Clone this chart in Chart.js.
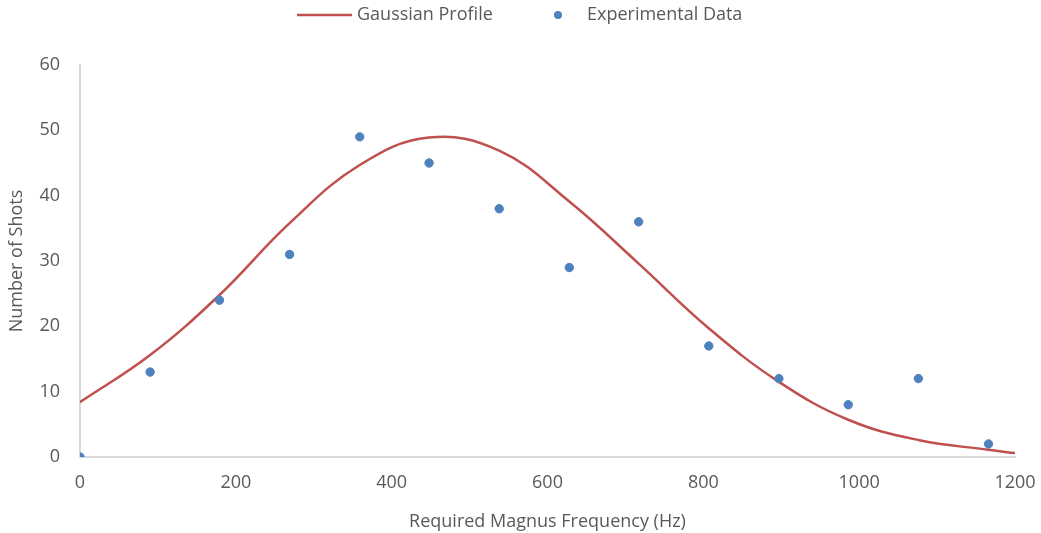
<!DOCTYPE html>
<html>
<head>
<meta charset="utf-8">
<script src="https://cdn.jsdelivr.net/npm/chart.js@4.4.1/dist/chart.umd.min.js"></script>
<style>
  html, body { margin: 0; padding: 0; background: #fff; }
</style>
</head>
<body>
<canvas id="chart" width="1041" height="533"></canvas>
<script>
// experimental points
const freqHz = [0, 90, 179, 269, 359, 448, 538, 628, 717, 807, 897, 986, 1076, 1166];
const shots = [0, 13, 24, 31, 49, 45, 38, 29, 36, 17, 12, 8, 12, 2];

// fitted gaussian curve
const fitHz = [0, 90, 179, 269, 359, 448, 538, 628, 717, 807, 897, 986, 1076, 1166, 1200];
const fitShots = [8.4, 15.6, 24.8, 35.8, 44.7, 48.9, 46.9, 39.1, 29.6, 19.7, 11.5, 5.7, 2.6, 1.1, 0.6];

const xTicks = [0, 200, 400, 600, 800, 1000, 1200];
const yTicks = [0, 10, 20, 30, 40, 50, 60];

const seriesNames = ["Gaussian Profile", "Experimental Data"];
const axisTitles = { x: "Required Magnus Frequency (Hz)", y: "Number of Shots" };

const RED = "#c0504d";
const BLUE = "#4f81bd";
const TEXT = "#595959";
const AXIS = "#d9d9d9";
const FONT = "'Open Sans', sans-serif";
const SIZE = 18;

// legend drawn by hand so line sample and marker can differ in width
const legendPlugin = {
  id: "topLegend",
  afterDraw(chart) {
    const ctx = chart.ctx;
    const y = 15;
    ctx.save();
    ctx.font = SIZE + "px " + FONT;
    ctx.textBaseline = "middle";
    // line sample
    ctx.strokeStyle = RED;
    ctx.lineWidth = 2.5;
    ctx.beginPath();
    ctx.moveTo(297, y);
    ctx.lineTo(352, y);
    ctx.stroke();
    ctx.fillStyle = TEXT;
    ctx.fillText(chart.data.datasets[0].label, 357, y);
    // marker sample
    ctx.fillStyle = BLUE;
    ctx.beginPath();
    ctx.arc(558, y, 4, 0, Math.PI * 2);
    ctx.fill();
    ctx.fillStyle = TEXT;
    ctx.fillText(chart.data.datasets[1].label, 587, y);
    ctx.restore();
  }
};

new Chart(document.getElementById("chart"), {
  type: "scatter",
  data: {
    datasets: [
      {
        label: seriesNames[0],
        data: fitHz.map((x, i) => ({ x, y: fitShots[i] })),
        showLine: true,
        borderColor: RED,
        borderWidth: 2.5,
        pointRadius: 0,
        tension: 0.4,
        order: 2
      },
      {
        label: seriesNames[1],
        data: freqHz.map((x, i) => ({ x, y: shots[i] })),
        backgroundColor: BLUE,
        borderColor: BLUE,
        pointRadius: 4.2,
        pointHoverRadius: 4.2,
        order: 1
      }
    ]
  },
  options: {
    responsive: false,
    animation: false,
    layout: { padding: { top: 65, right: 26, left: 0, bottom: 0 } },
    plugins: {
      legend: { display: false },
      tooltip: { enabled: false }
    },
    scales: {
      x: {
        type: "linear",
        min: 0,
        max: 1200,
        afterBuildTicks: s => { s.ticks = xTicks.map(v => ({ value: v })); },
        afterFit: s => { s.height = 76; s.paddingLeft = 0; s.paddingRight = 0; },
        grid: { display: false, drawTicks: false },
        border: { display: true, color: AXIS, width: 2 },
        ticks: { color: TEXT, font: { family: FONT, size: SIZE }, padding: 15, maxRotation: 0, callback: v => String(v) },
        title: { display: true, text: axisTitles.x, color: TEXT, font: { family: FONT, size: SIZE }, padding: { top: 4, bottom: 0 } }
      },
      y: {
        min: 0,
        max: 60,
        afterBuildTicks: s => { s.ticks = yTicks.map(v => ({ value: v })); },
        afterFit: s => { s.width = 80; },
        grid: { display: false, drawTicks: false },
        border: { display: true, color: AXIS, width: 2 },
        ticks: { color: TEXT, font: { family: FONT, size: SIZE }, padding: 20 },
        title: { display: true, text: axisTitles.y, color: TEXT, font: { family: FONT, size: SIZE }, padding: { top: 6, bottom: 0 } }
      }
    }
  },
  plugins: [legendPlugin]
});
</script>
</body>
</html>
